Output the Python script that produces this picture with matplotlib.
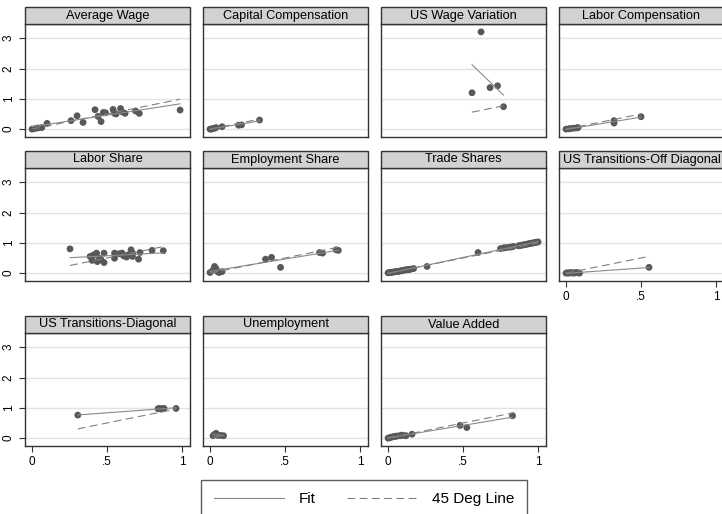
import numpy as np
import matplotlib
matplotlib.use("Agg")
import matplotlib.pyplot as plt
from matplotlib.patches import Rectangle
from matplotlib.lines import Line2D

plt.rcParams['font.family'] = ['Liberation Sans', 'DejaVu Sans']

# panel titles
titles = ["Average Wage", "Capital Compensation", "US Wage Variation", "Labor Compensation",
          "Labor Share", "Employment Share", "Trade Shares", "US Transitions-Off Diagonal",
          "US Transitions-Diagonal", "Unemployment", "Value Added"]

# data
avg_wage_x = [0.0, 0.02, 0.04, 0.065, 0.10, 0.26, 0.30, 0.34, 0.42, 0.44, 0.46, 0.475, 0.49,
              0.54, 0.55, 0.56, 0.59, 0.60, 0.62, 0.69, 0.715, 0.987]
avg_wage_y = [0.0, 0.02, 0.04, 0.05, 0.19, 0.28, 0.44, 0.22, 0.64, 0.42, 0.25, 0.55, 0.54,
              0.65, 0.52, 0.50, 0.68, 0.57, 0.52, 0.60, 0.52, 0.63]

cap_comp_x = [0.0, 0.01, 0.02, 0.03, 0.04, 0.08, 0.19, 0.21, 0.33]
cap_comp_y = [0.0, 0.0, 0.02, 0.03, 0.05, 0.08, 0.13, 0.14, 0.30]

wage_var_x = [0.56, 0.62, 0.68, 0.73, 0.77]
wage_var_y = [1.20, 3.21, 1.37, 1.43, 0.74]

lab_comp_x = [0.0, 0.02, 0.03, 0.05, 0.07, 0.08, 0.32, 0.32, 0.50]
lab_comp_y = [0.0, 0.01, 0.02, 0.03, 0.04, 0.05, 0.28, 0.20, 0.41]

lab_share_x = [0.253, 0.387, 0.40, 0.41, 0.43, 0.435, 0.45, 0.46, 0.48, 0.48, 0.55, 0.55,
               0.58, 0.60, 0.61, 0.63, 0.64, 0.66, 0.67, 0.67, 0.71, 0.72, 0.80, 0.875]
lab_share_y = [0.80, 0.55, 0.42, 0.60, 0.66, 0.38, 0.49, 0.44, 0.66, 0.35, 0.49, 0.66,
               0.64, 0.66, 0.57, 0.53, 0.60, 0.77, 0.66, 0.55, 0.46, 0.68, 0.75, 0.74]

emp_share_x = [0.0, 0.02, 0.03, 0.04, 0.05, 0.06, 0.08, 0.37, 0.41, 0.47, 0.73, 0.75, 0.84, 0.855]
emp_share_y = [0.02, 0.10, 0.22, 0.15, 0.05, 0.02, 0.05, 0.46, 0.52, 0.19, 0.68, 0.66, 0.77, 0.75]

trade_x = [0.0, 0.01, 0.02, 0.03, 0.04, 0.05, 0.06, 0.07, 0.08, 0.09, 0.10, 0.11, 0.12, 0.13,
           0.14, 0.15, 0.17, 0.26, 0.60, 0.75, 0.77, 0.78, 0.80, 0.82, 0.835, 0.87, 0.88, 0.89,
           0.90, 0.91, 0.92, 0.93, 0.94, 0.95, 0.96, 0.97, 0.98, 0.99, 1.0]
trade_y = [0.01, 0.02, 0.02, 0.03, 0.04, 0.05, 0.05, 0.06, 0.07, 0.08, 0.09, 0.10, 0.11, 0.11,
           0.12, 0.13, 0.15, 0.22, 0.68, 0.81, 0.83, 0.84, 0.85, 0.86, 0.88, 0.90, 0.91, 0.92,
           0.93, 0.94, 0.95, 0.96, 0.97, 0.98, 0.99, 1.00, 1.01, 1.02, 1.03]

off_diag_x = [0.0, 0.01, 0.02, 0.03, 0.04, 0.05, 0.06, 0.07, 0.08, 0.09, 0.553]
off_diag_y = [0.0, 0.01, 0.0, 0.02, 0.01, 0.0, 0.01, 0.02, 0.01, 0.0, 0.19]

diag_x = [0.305, 0.84, 0.85, 0.86, 0.87, 0.88, 0.96]
diag_y = [0.76, 0.97, 0.98, 0.96, 0.97, 0.98, 0.98]

unemp_x = [0.02, 0.03, 0.04, 0.05, 0.07, 0.09]
unemp_y = [0.08, 0.12, 0.16, 0.09, 0.09, 0.08]

va_x = [0.0, 0.01, 0.02, 0.03, 0.04, 0.05, 0.06, 0.08, 0.09, 0.10, 0.12, 0.16, 0.48, 0.525, 0.83]
va_y = [0.0, 0.01, 0.03, 0.04, 0.05, 0.06, 0.07, 0.08, 0.10, 0.09, 0.08, 0.13, 0.42, 0.35, 0.74]

panel_x = [avg_wage_x, cap_comp_x, wage_var_x, lab_comp_x, lab_share_x, emp_share_x,
           trade_x, off_diag_x, diag_x, unemp_x, va_x]
panel_y = [avg_wage_y, cap_comp_y, wage_var_y, lab_comp_y, lab_share_y, emp_share_y,
           trade_y, off_diag_y, diag_y, unemp_y, va_y]

y_ticks = [0, 1, 2, 3]
x_ticks = [0, 0.5, 1]
x_tick_labels = ["0", ".5", "1"]

# layout in pixels
W, H = 722, 514
col_left = [25, 203, 381, 559]
row_top = [24, 168, 333]
pw, ph = 165, 113
title_h = 17

fig = plt.figure(figsize=(W / 100, H / 100), dpi=100)

dot_col = "#585858"
fit_col = "#8a8a8a"
deg_col = "#808080"

for i, title in enumerate(titles):
    r, c = divmod(i, 4)
    ax = fig.add_axes([col_left[c] / W, 1 - (row_top[r] + ph) / H, pw / W, ph / H])
    x = np.array(panel_x[i])
    y = np.array(panel_y[i])

    ax.set_xlim(-0.047, 1.053)
    ax.set_ylim(-0.26, 3.47)
    for yt in y_ticks:
        ax.axhline(yt, color="#e3e3e3", lw=1.0, zorder=0)

    ax.scatter(x, y, s=24, color=dot_col, edgecolors="none", zorder=2)

    # linear fit over data range
    b, a = np.polyfit(x, y, 1)
    xs = np.array([x.min(), x.max()])
    ax.plot(xs, a + b * xs, color=fit_col, lw=0.8, zorder=3)
    # 45 degree line
    ax.plot(xs, xs, color=deg_col, lw=0.8, linestyle=(0, (7, 4)), zorder=3)

    for s in ax.spines.values():
        s.set_color("#333333")
        s.set_linewidth(1.0)

    ax.set_yticks(y_ticks)
    ax.set_xticks(x_ticks)
    if c == 0:
        ax.set_yticklabels([str(t) for t in y_ticks], rotation=90, va="center", fontsize=8.5)
        ax.tick_params(axis="y", length=4, width=0.8, pad=3.5, color="#333333")
    else:
        ax.tick_params(axis="y", left=False, labelleft=False)
    bottom = (r == 2) or (c == 3 and r == 1)
    if bottom:
        ax.set_xticklabels(x_tick_labels, fontsize=8.5)
        ax.tick_params(axis="x", length=4, width=0.8, pad=3, color="#333333")
    else:
        ax.tick_params(axis="x", bottom=False, labelbottom=False)

    # title bar
    th = title_h / ph
    ax.add_patch(Rectangle((0, 1), 1, th, transform=ax.transAxes, clip_on=False,
                           facecolor="#d2d2d2", edgecolor="#333333", lw=1.0, zorder=5))
    ax.text(0.5, 1 + th / 2, title, transform=ax.transAxes, ha="center", va="center",
            fontsize=9.2, zorder=6, clip_on=False)

handles = [Line2D([], [], color=fit_col, lw=0.8),
           Line2D([], [], color=deg_col, lw=0.8, linestyle=(0, (7, 4)))]
leg = fig.legend(handles, ["Fit", "45 Deg Line"], ncol=2, loc="upper center",
                 bbox_to_anchor=(364 / W, 1 - 480 / H), frameon=True, fancybox=False,
                 edgecolor="#333333", fontsize=11, handlelength=4.6, handletextpad=1.0,
                 columnspacing=2.0, borderpad=0.8, borderaxespad=0)
leg.get_frame().set_linewidth(1.0)

fig.savefig("out.png", dpi=100)
